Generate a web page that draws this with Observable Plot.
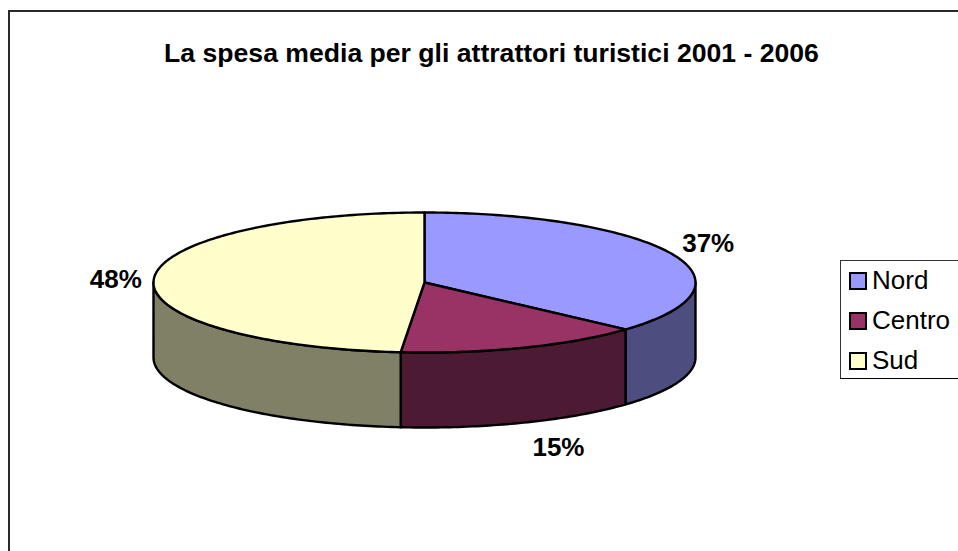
<!DOCTYPE html>
<html><head><meta charset="utf-8">
<script src="https://cdn.jsdelivr.net/npm/d3@7"></script>
<script src="https://cdn.jsdelivr.net/npm/@observablehq/plot@0.6"></script>
<style>
html,body{margin:0;padding:0;background:#fff;overflow:hidden}
#wrap{position:relative;width:958px;height:551px;overflow:hidden;font-family:"Liberation Sans",Arial,sans-serif}
#frame{position:absolute;left:8px;top:10px;width:1000px;height:600px;border:2px solid #2a2a2a;pointer-events:none}
#legend{position:absolute;left:840px;top:259.5px;width:160px;height:117px;border:1.5px solid #333;background:#fff;border-bottom-color:#000}
.item{position:absolute;left:8px;height:20px;display:flex;align-items:center;font-size:26px;color:#000;white-space:nowrap}
.sw{display:inline-block;width:14px;height:14px;border:2.5px solid #000;margin-right:5px}
</style></head><body>
<div id="wrap"><div id="frame"></div></div>
<script>
const title = "La spesa media per gli attrattori turistici 2001 - 2006";
const categories = ["Nord", "Centro", "Sud"];
const values = [36.7, 14.7, 48.6];
const labels = ["37%", "15%", "48%"];
const topColors = ["#9999ff", "#993366", "#ffffcc"];
const sideColors = ["#4d4d80", "#4d1a33", "#808066"];
const depth = 75 / 70;

const total = d3.sum(values);
const cum = d3.cumsum(values);
const ang = v => v / total * 2 * Math.PI;
const slices = categories.map((c, i) => ({i, start: ang(i ? cum[i - 1] : 0), end: ang(cum[i])}));
const arc = (a0, a1, dy = 0) => {
  const n = Math.max(2, Math.ceil(Math.abs(a1 - a0) * 60));
  return d3.range(n + 1).map(k => {
    const a = a0 + (a1 - a0) * k / n;
    return {px: Math.sin(a), py: -Math.cos(a) + dy};
  });
};
const rows = [];
for (const s of slices) {
  const a0 = Math.max(s.start, Math.PI / 2), a1 = Math.min(s.end, 1.5 * Math.PI);
  if (a1 > a0) {
    const pts = [...arc(a0, a1), ...arc(a1, a0, depth)];
    for (const p of pts) rows.push({...p, part: "side" + s.i, color: sideColors[s.i]});
  }
}
for (const s of slices) {
  const pts = [{px: 0, py: 0}, ...arc(s.start, s.end)];
  for (const p of pts) rows.push({...p, part: "top" + s.i, color: topColors[s.i]});
}
const labelOffsets = [[36, -10], [35, 25], [-38, 0]];
const labelRows = slices.map(s => {
  const m = (s.start + s.end) / 2;
  const front = Math.cos(m) < 0 && Math.abs(Math.sin(m)) < 0.7;
  return {text: labels[s.i], px: Math.sin(m), py: -Math.cos(m) + (front ? depth : 0),
          dx: labelOffsets[s.i][0], dy: labelOffsets[s.i][1]};
});

const chart = Plot.plot({
  width: 958, height: 551,
  marginTop: 0, marginRight: 0, marginBottom: 0, marginLeft: 0,
  x: {domain: [-1, 1], range: [153, 695], axis: null},
  y: {domain: [-1, 1], range: [212, 352], axis: null},
  color: {type: "identity"},
  style: {fontFamily: '"Liberation Sans", Arial, sans-serif', background: "#fff"},
  marks: [
    Plot.line(rows, {x: "px", y: "py", z: "part", fill: "color", stroke: "#000", strokeWidth: 2.4,
      curve: "linear-closed", strokeLinejoin: "round"}),
    ...labelRows.map(d => Plot.text([d], {x: "px", y: "py", text: "text", dx: d.dx, dy: d.dy,
      fontSize: 26, fontWeight: "bold", fill: "#000"})),
    Plot.text([title], {text: d => d, frameAnchor: "top", dx: 12, dy: 53, lineAnchor: "middle",
      fontSize: 26.6, fontWeight: "bold", fill: "#000"})
  ]
});
const wrap = document.getElementById("wrap");
wrap.insertBefore(chart, wrap.firstChild);
chart.style.position = "absolute"; chart.style.left = "0"; chart.style.top = "0";

const legend = document.createElement("div");
legend.id = "legend";
categories.forEach((c, i) => {
  const it = document.createElement("div");
  it.className = "item";
  it.style.top = (10 + i * 40) + "px";
  const sw = document.createElement("span");
  sw.className = "sw"; sw.style.background = topColors[i];
  it.appendChild(sw); it.appendChild(document.createTextNode(c));
  legend.appendChild(it);
});
wrap.appendChild(legend);
</script></body></html>
